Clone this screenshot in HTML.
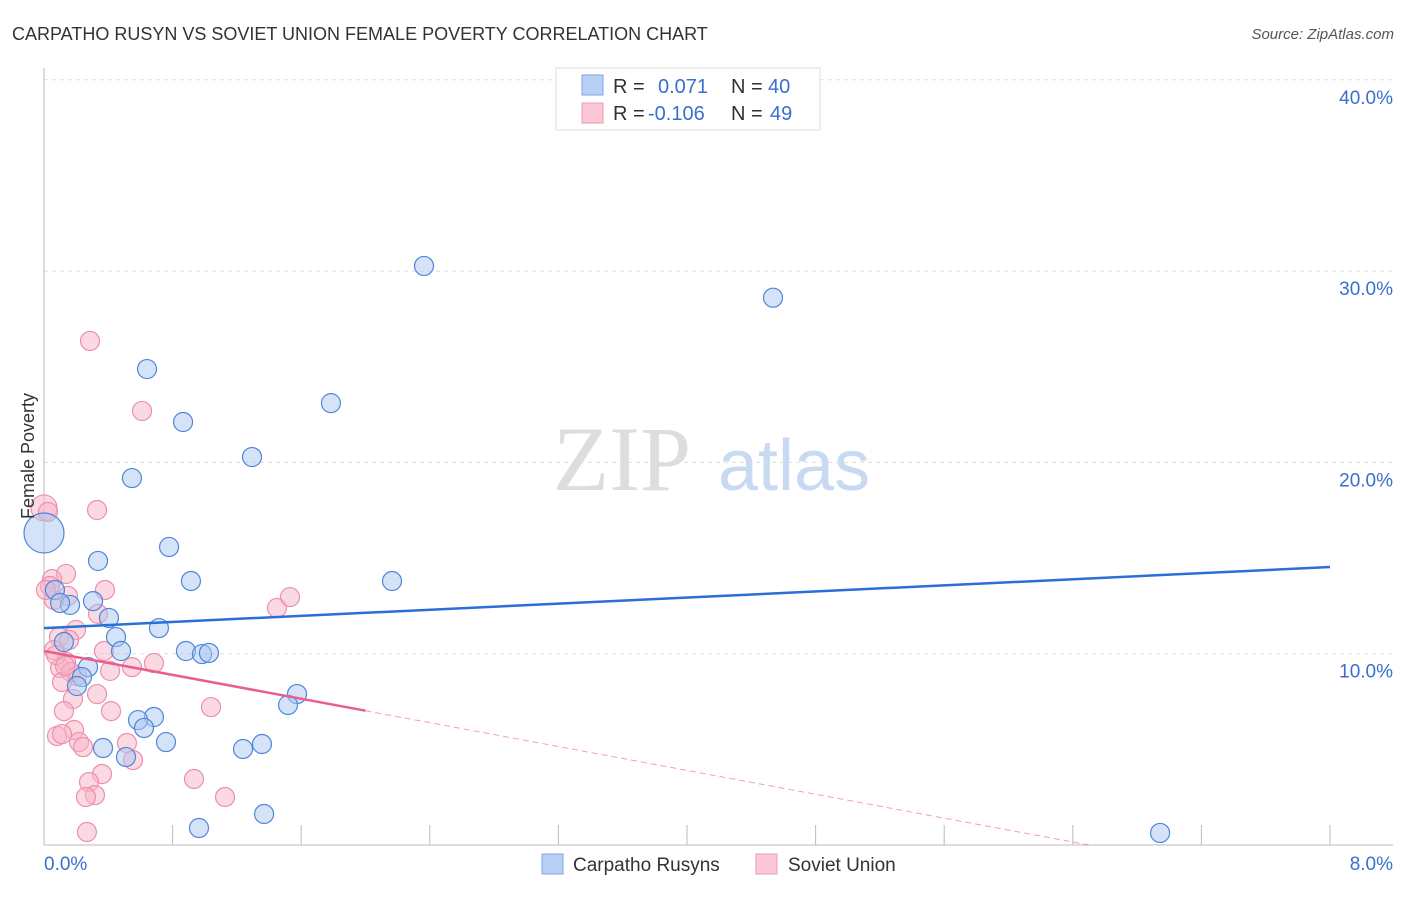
<!DOCTYPE html>
<html><head><meta charset="utf-8"><style>
body{margin:0;background:#fff;font-family:"Liberation Sans",sans-serif;}
svg text{font-family:"Liberation Sans",sans-serif;}
</style></head><body>
<svg id="chart" width="1406" height="892" viewBox="0 0 1406 892" xmlns="http://www.w3.org/2000/svg">
<text x="12" y="40" font-size="18" fill="#333">CARPATHO RUSYN VS SOVIET UNION FEMALE POVERTY CORRELATION CHART</text>
<text x="1394" y="39" font-size="15" fill="#555" font-style="italic" text-anchor="end">Source: ZipAtlas.com</text>
<g>
<text x="553" y="490" font-size="92" fill="#ddd" font-family="Liberation Serif,serif" style="font-family:'Liberation Serif',serif">ZIP</text>
<text x="718" y="490" font-size="72" fill="#c8daf2">atlas</text>
</g>
<g id="grid"></g>
<g id="axes"></g>
<g id="pts"></g>
<g id="lines"></g>
<text x="34" y="456" font-size="18" fill="#333" transform="rotate(-90 34 456)" text-anchor="middle">Female Poverty</text>
<g>
<rect x="556" y="68" width="264" height="62" fill="#fff" stroke="#ddd"/>
<rect x="582" y="75" width="21" height="20" fill="#b8d0f4" stroke="#7aa6e6"/>
<rect x="582" y="103" width="21" height="20" fill="#fcc8d6" stroke="#ee9ab2"/>
<text x="613" y="93" font-size="20" fill="#333">R =</text>
<text x="658" y="93" font-size="20" fill="#3a6fcc">0.071</text>
<text x="731" y="93" font-size="20" fill="#333">N =</text>
<text x="768" y="93" font-size="20" fill="#3a6fcc">40</text>
<text x="613" y="120" font-size="20" fill="#333">R =</text>
<text x="648" y="120" font-size="20" fill="#3a6fcc">-0.106</text>
<text x="731" y="120" font-size="20" fill="#333">N =</text>
<text x="770" y="120" font-size="20" fill="#3a6fcc">49</text>
</g>
<g>
<rect x="542" y="854" width="21" height="20" fill="#b8d0f4" stroke="#7aa6e6"/>
<text x="573" y="871" font-size="19" fill="#333">Carpatho Rusyns</text>
<rect x="756" y="854" width="21" height="20" fill="#fcc8d6" stroke="#ee9ab2"/>
<text x="788" y="871" font-size="19" fill="#333">Soviet Union</text>
</g>
</svg>
<script>
const blueX=[2.364,4.535,0.641,1.785,0.865,1.294,0.547,0.0,0.778,0.336,0.914,2.165,0.305,0.162,0.068,0.404,0.715,0.448,0.124,0.479,0.883,0.983,1.026,0.274,0.236,0.205,1.574,1.518,0.684,0.585,0.622,0.759,0.367,1.238,1.356,0.510,0.964,1.369,6.943,0.100];
const blueY=[30.27,28.61,24.88,23.10,22.11,20.28,19.18,16.31,15.58,14.85,13.80,13.80,12.75,12.55,13.33,11.87,11.34,10.87,10.61,10.14,10.14,9.98,10.04,9.30,8.78,8.31,7.89,7.32,6.69,6.53,6.12,5.38,5.07,5.02,5.28,4.60,0.89,1.62,0.63,12.65];
const pinkX=[0.286,0.610,0.330,0.0,0.025,0.137,0.050,0.379,0.149,0.062,0.336,0.199,0.093,0.156,0.062,0.137,0.100,0.684,0.168,0.205,0.112,0.330,0.180,0.417,1.039,0.124,0.187,0.081,0.112,0.218,0.243,0.516,0.554,0.933,0.361,0.280,1.126,0.317,0.261,0.267,1.449,1.530,0.547,0.411,0.037,0.012,0.075,0.131,0.373];
const pinkY=[26.35,22.69,17.51,17.62,17.41,14.17,13.90,13.33,13.02,12.81,12.08,11.24,10.87,10.72,10.19,9.57,9.25,9.51,9.04,8.83,8.52,7.89,7.63,7.00,7.21,7.00,6.01,5.70,5.80,5.38,5.12,5.33,4.44,3.45,3.71,3.29,2.51,2.61,2.51,0.68,12.39,12.96,9.30,9.10,13.54,13.33,9.93,9.36,10.14];
const blueTrend=[11.34,14.53];
const pinkTrend=[10.14,-1.56];
const yTicks=[10,20,30,40];
const yTickLabels=["10.0%","20.0%","30.0%","40.0%"];
const xTicks=[0,0.8,1.6,2.4,3.2,4.0,4.8,5.6,6.4,7.2,8.0];
const NS="http://www.w3.org/2000/svg";
const X0=44,X1=1330,Y0=845,YPER=19.13;
function sx(v){return X0+(X1-X0)*v/8;}
function sy(v){return Y0-v*YPER;}
function mk(tag,attrs,parent){const e=document.createElementNS(NS,tag);for(const k in attrs)e.setAttribute(k,attrs[k]);parent.appendChild(e);return e;}
const grid=document.getElementById('grid'),axes=document.getElementById('axes'),pts=document.getElementById('pts'),lines=document.getElementById('lines');
yTicks.forEach((t,i)=>{
 const l=mk('line',{x1:44,x2:1393,y1:sy(t),y2:sy(t),stroke:'#ddd','stroke-dasharray':'4,4'},grid);
 
 
 const tx=mk('text',{x:1393,y:sy(t)+24,'font-size':19,fill:'#3a6fcc','text-anchor':'end'},axes);
 tx.textContent=yTickLabels[i];
 
 
});
mk('line',{x1:44,x2:44,y1:68,y2:845,stroke:'#bbb'},axes);
mk('line',{x1:44,x2:1393,y1:845,y2:845,stroke:'#bbb'},axes);
xTicks.forEach(t=>{
 const l=mk('line',{x1:sx(t),x2:sx(t),y1:825,y2:845,stroke:'#bbb'},axes);
 
 
});
const xl0=mk('text',{x:44,y:870,'font-size':19,fill:'#3a6fcc'},axes);xl0.textContent='0.0%';


const xl1=mk('text',{x:1393,y:870,'font-size':19,fill:'#3a6fcc','text-anchor':'end'},axes);xl1.textContent='8.0%';


function drawPts(xs,ys,fill,stroke,bigR,name){
 xs.forEach((x,i)=>{
  const r=(x===0)?bigR:9.5;
  const c=mk('circle',{cx:sx(x),cy:sy(ys[i]),r:r,fill:fill,'fill-opacity':0.5,stroke:stroke,'stroke-width':1.2},pts);
  
  
 });
}
drawPts(pinkX,pinkY,'#f8b4c8','#ee8fac',13,'soviet-union-point');
drawPts(blueX,blueY,'#a9c8f0','#4f86d8',20,'carpatho-rusyn-point');
const bl=mk('line',{x1:sx(0),y1:sy(blueTrend[0]),x2:sx(8),y2:sy(blueTrend[1]),stroke:'#2a6fd6','stroke-width':2.5},lines);


const pf=x=>pinkTrend[0]+pinkTrend[1]*x;
const pl=mk('line',{x1:sx(0),y1:sy(pf(0)),x2:sx(2.0),y2:sy(pf(2.0)),stroke:'#e8608a','stroke-width':2.5},lines);


const xz=-pinkTrend[0]/pinkTrend[1];
const pd=mk('line',{x1:sx(2.0),y1:sy(pf(2.0)),x2:sx(xz),y2:sy(0),stroke:'#e8608a','stroke-width':1,'stroke-dasharray':'6,4','stroke-opacity':0.6},lines);


</script>
</body></html>
